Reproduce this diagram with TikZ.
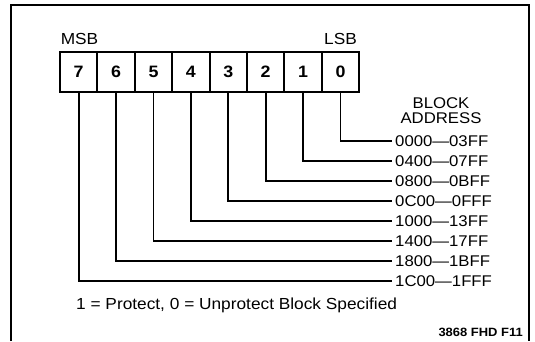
\documentclass[tikz,border=0pt]{standalone}
\usepackage{fontspec}
\setmainfont[FakeStretch=1.08]{Liberation Sans}
\usepackage{tikz}

\begin{document}
\begin{tikzpicture}[x=1pt, y=-1pt,
  cell/.style={draw, line width=2pt, minimum width=37.4pt, minimum height=40pt, inner sep=0pt, font=\fontsize{16.5}{16.5}\selectfont\bfseries},
  addr/.style={anchor=west, inner xsep=3pt, inner ysep=0pt, font=\fontsize{15.5}{15.5}\selectfont},
  wire/.style={line width=1.7pt}]
\useasboundingbox (0,0) rectangle (535,341);

% Frame
\draw[line width=1.3pt] (11,341) -- (11,5) -- (529,5) -- (529,341);

% Register cells, bit 7 on the left
\foreach \b in {0,...,7}
  \node[cell] (b\b) at ({60+(7.5-\b)*37.4}, 72) {\b};

% MSB and LSB
\node[font=\fontsize{16}{16}\selectfont] (msb) at (79.5, 38.5) {MSB};
\node[font=\fontsize{16}{16}\selectfont] (lsb) at (340.5, 38.5) {LSB};

% Block addresses
\node[align=center, font=\fontsize{15.5}{15}\selectfont] (head) at (441, 110.5) {BLOCK\\ADDRESS};
\foreach \b/\a in {0/0000---03FF, 1/0400---07FF, 2/0800---0BFF, 3/0C00---0FFF,
                   4/1000---13FF, 5/1400---17FF, 6/1800---1BFF, 7/1C00---1FFF}
{
  \node[addr] (a\b) at (392, {141+20*\b}) {\a};
  \draw[wire] (b\b.south) |- (a\b.west);
}

% Notes
\node[anchor=west, inner sep=0pt, font=\fontsize{16}{16}\selectfont] (note) at (76, 305) {1 = Protect, 0 = Unprotect Block Specified};
\node[anchor=east, inner sep=0pt, font=\fontsize{12}{12}\selectfont\bfseries] (fig) at (523, 332) {3868 FHD F11};

\end{tikzpicture}
\end{document}
